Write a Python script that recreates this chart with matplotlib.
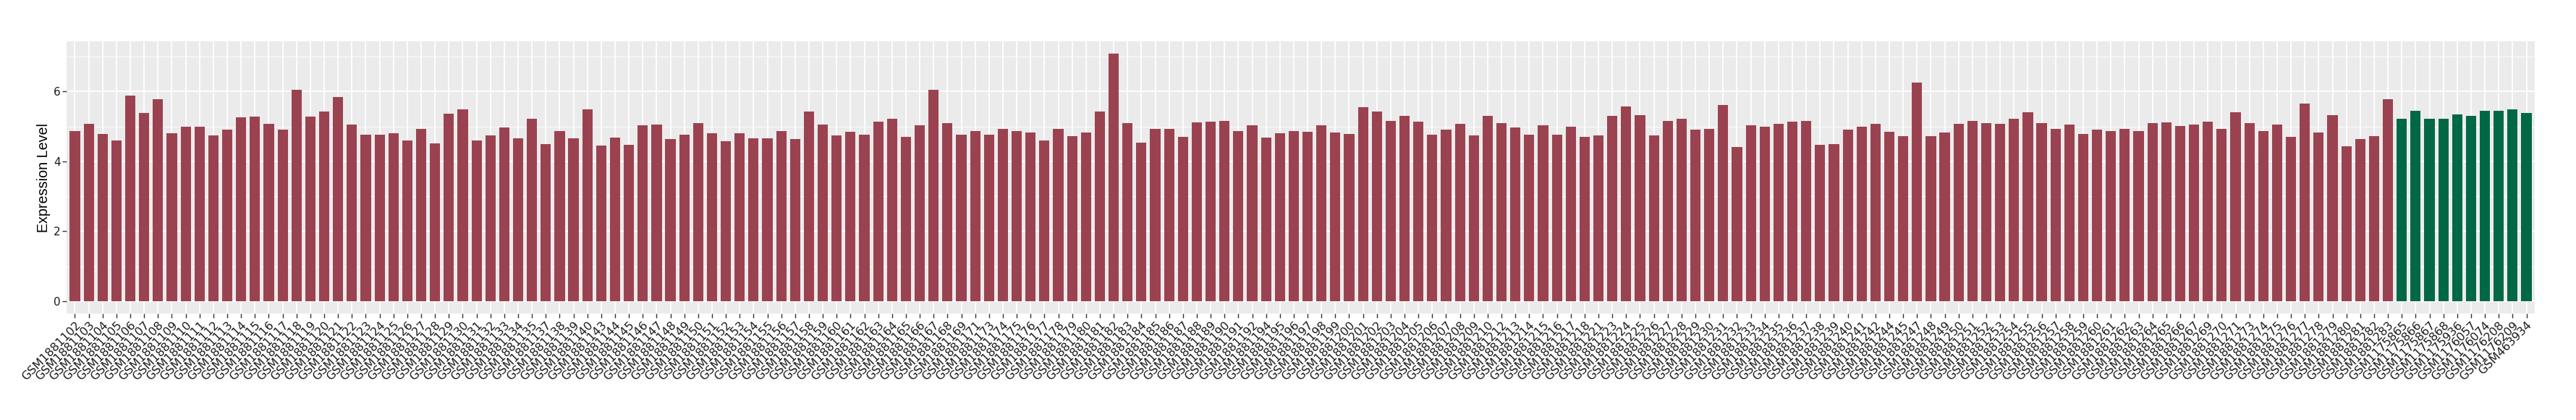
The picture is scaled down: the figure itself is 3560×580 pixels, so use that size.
import matplotlib
matplotlib.use("Agg")
import matplotlib.pyplot as plt
import numpy as np

plt.rcParams['font.family'] = ['Liberation Sans', 'DejaVu Sans']

# Muestras del grupo 1 (rojo): GSM1881xxx
red_ids = [1102, 1103, 1104, 1105, 1106, 1107, 1108, 1109, 1110, 1111,
           1112, 1113, 1114, 1115, 1116, 1117, 1118, 1119, 1120, 1121,
           1122, 1123, 1124, 1125, 1126, 1127, 1128, 1129, 1130, 1131,
           1132, 1133, 1134, 1135, 1137, 1138, 1139, 1140, 1143, 1144,
           1145, 1146, 1147, 1148, 1149, 1150, 1151, 1152, 1153, 1154,
           1155, 1156, 1157, 1158, 1159, 1160, 1161, 1162, 1163, 1164,
           1165, 1166, 1167, 1168, 1169, 1171, 1173, 1174, 1175, 1176,
           1177, 1178, 1179, 1180, 1181, 1182, 1183, 1184, 1185, 1186,
           1187, 1188, 1189, 1190, 1191, 1192, 1194, 1195, 1196, 1197,
           1198, 1199, 1200, 1201, 1202, 1203, 1204, 1205, 1206, 1207,
           1208, 1209, 1210, 1212, 1213, 1214, 1215, 1216, 1217, 1218,
           1221, 1223, 1224, 1225, 1226, 1227, 1228, 1229, 1230, 1231,
           1232, 1233, 1234, 1235, 1236, 1237, 1238, 1239, 1240, 1241,
           1242, 1244, 1245, 1247, 1248, 1249, 1250, 1251, 1252, 1253,
           1254, 1255, 1256, 1257, 1258, 1259, 1260, 1261, 1262, 1263,
           1264, 1265, 1266, 1267, 1269, 1270, 1271, 1273, 1274, 1275,
           1276, 1277, 1278, 1279, 1280, 1281, 1282, 1283]

red_vals = [4.88, 5.07, 4.78, 4.61, 5.88, 5.38, 5.78, 4.81, 4.99, 4.99,
            4.74, 4.91, 5.26, 5.28, 5.07, 4.91, 6.05, 5.28, 5.43, 5.84,
            5.05, 4.76, 4.76, 4.81, 4.61, 4.93, 4.52, 5.36, 5.50, 4.60,
            4.74, 4.97, 4.66, 5.22, 4.49, 4.88, 4.66, 5.50, 4.45, 4.68,
            4.47, 5.03, 5.05, 4.64, 4.76, 5.09, 4.81, 4.58, 4.81, 4.66,
            4.66, 4.87, 4.64, 5.43, 5.05, 4.74, 4.84, 4.76, 5.14, 5.23,
            4.70, 5.03, 6.05, 5.09, 4.76, 4.88, 4.76, 4.93, 4.87, 4.82,
            4.60, 4.93, 4.72, 4.82, 5.43, 7.08, 5.09, 4.53, 4.93, 4.93,
            4.70, 5.11, 5.14, 5.16, 4.88, 5.03, 4.68, 4.81, 4.87, 4.84,
            5.03, 4.82, 4.78, 5.55, 5.43, 5.17, 5.30, 5.14, 4.76, 4.91,
            5.07, 4.74, 5.30, 5.09, 4.97, 4.76, 5.03, 4.76, 4.99, 4.70,
            4.74, 5.30, 5.57, 5.32, 4.74, 5.17, 5.23, 4.91, 4.93, 5.61,
            4.41, 5.03, 4.99, 5.07, 5.14, 5.16, 4.47, 4.49, 4.91, 4.99,
            5.07, 4.84, 4.72, 6.25, 4.72, 4.82, 5.07, 5.17, 5.09, 5.07,
            5.23, 5.40, 5.09, 4.93, 5.05, 4.78, 4.91, 4.88, 4.94, 4.87,
            5.09, 5.11, 5.01, 5.05, 5.14, 4.93, 5.40, 5.09, 4.87, 5.05,
            4.70, 5.65, 4.82, 5.32, 4.43, 4.64, 4.72, 5.79]

# Muestras del grupo 2 (verde)
green_names = ['GSM1175865', 'GSM1175866', 'GSM1175867', 'GSM1175868', 'GSM1175936',
               'GSM1176057', 'GSM1176074', 'GSM1176208', 'GSM1176209', 'GSM463934']
green_vals = [5.22, 5.44, 5.22, 5.22, 5.34, 5.30, 5.44, 5.44, 5.49, 5.38]

red_col = '#9B4251'
green_col = '#006846'

names = ['GSM188' + str(i) for i in red_ids] + green_names
vals = red_vals + green_vals
cols = [red_col] * len(red_vals) + [green_col] * len(green_vals)
x = np.arange(len(names))

fig = plt.figure(figsize=(35.6, 5.8), dpi=100)
ax = fig.add_axes([92 / 3560, (580 - 433) / 580, (3503 - 92) / 3560, (433 - 57.3) / 580])

ax.set_facecolor('#EBEBEB')
ax.bar(x, vals, width=0.74, color=cols, zorder=3)

# Grilla estilo ggplot
ax.set_yticks([0, 2, 4, 6])
ax.set_yticks([1, 3, 5, 7], minor=True)
ax.set_xticks(x)
ax.set_xticklabels(names, rotation=45, ha='right', va='top', rotation_mode='anchor',
                   fontsize=11.5, color='#1A1A1A', family='DejaVu Sans')
ax.tick_params(axis='y', labelsize=11, labelcolor='#1A1A1A')
for t in ax.get_yticklabels():
    t.set_family('DejaVu Sans')
ax.grid(which='major', color='white', lw=1.3, zorder=1)
ax.grid(which='minor', axis='y', color='white', lw=0.6, zorder=1)
ax.tick_params(which='major', length=4, width=1, color='#333333', pad=2)
ax.tick_params(which='minor', length=0)
for s in ax.spines.values():
    s.set_visible(False)

ymax = max(vals)
ax.set_ylim(-0.05 * ymax, 1.05 * ymax)
ax.set_xlim(-0.6, len(names) - 1 + 0.6)
ax.set_ylabel('Expression Level', fontsize=14.2, labelpad=3)

fig.savefig('out.png', dpi=100)
